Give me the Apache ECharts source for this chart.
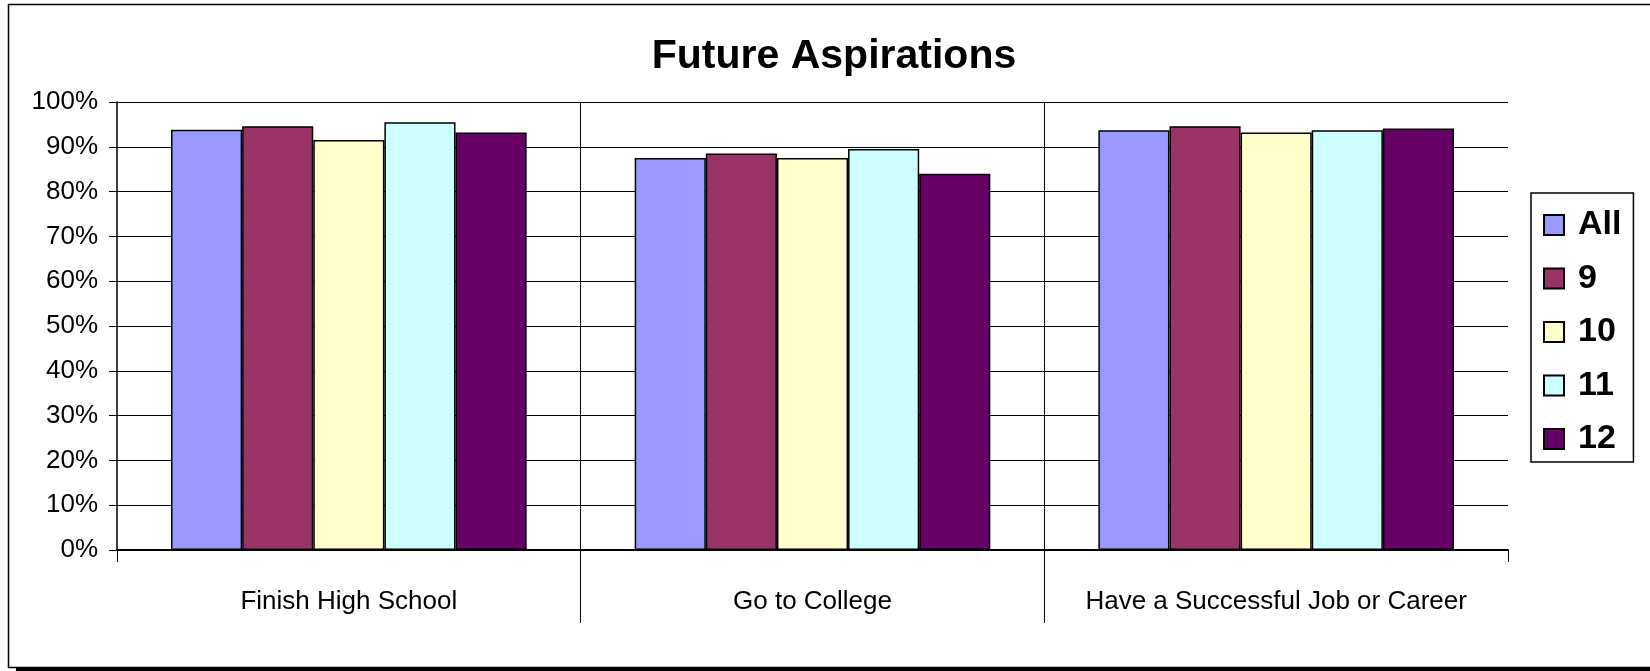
<!DOCTYPE html>
<html>
<head>
<meta charset="utf-8">
<script src="https://cdn.jsdelivr.net/npm/echarts@6/dist/echarts.min.js"></script>
<style>
html,body{margin:0;padding:0;background:#fff;}
#chart{width:1650px;height:671px;}
</style>
</head>
<body>
<div id="chart"></div>
<script>
var categories = ['Finish High School', 'Go to College', 'Have a Successful Job or Career'];
var seriesNames = ['All', '9', '10', '11', '12'];
var valuesAll = [93.8, 87.5, 93.7];
var values9 = [94.6, 88.5, 94.6];
var values10 = [91.5, 87.5, 93.2];
var values11 = [95.5, 89.5, 93.7];
var values12 = [93.2, 84.0, 94.1];
var yTicks = [0, 10, 20, 30, 40, 50, 60, 70, 80, 90, 100];

var colors = ['#9999FF', '#993366', '#FFFFCC', '#CCFFFF', '#660066'];
var seriesValues = [valuesAll, values9, values10, values11, values12];
var FONT = "'Liberation Sans', Arial, sans-serif";

var W = 1650, H = 671;
var gridLeft = 117, gridRight = 142, gridTop = 102, gridBottom = 121;
var plotW = W - gridLeft - gridRight;
var band = plotW / categories.length;

var chart = echarts.init(document.getElementById('chart'), null, {renderer: 'canvas'});

var series = seriesNames.map(function (name, i) {
  return {
    name: name,
    type: 'bar',
    xAxisIndex: 0,
    yAxisIndex: 0,
    data: seriesValues[i],
    barGap: '0%',
    barCategoryGap: '23.3%',
    itemStyle: {color: colors[i], borderColor: '#000', borderWidth: 1.5},
    emphasis: {disabled: true},
    animation: false
  };
});

var option = {
  backgroundColor: '#fff',
  animation: false,
  title: {
    text: 'Future Aspirations',
    left: 834,
    textAlign: 'center',
    top: 36,
    padding: 0,
    textStyle: {fontFamily: FONT, fontSize: 41, fontWeight: 'bold', color: '#000'}
  },
  legend: {
    orient: 'vertical',
    left: 1531,
    top: 193,
    width: 102,
    padding: [15, 12, 6, 12],
    itemGap: 19.5,
    itemWidth: 20,
    itemHeight: 20,
    icon: 'rect',
    borderColor: '#000',
    borderWidth: 1.5,
    textStyle: {fontFamily: FONT, fontSize: 34, fontWeight: 'bold', color: '#000', lineHeight: 34, padding: [0, 0, 0, 9]},
    data: seriesNames
  },
  graphic: [
    {type: 'rect', shape: {x: 8.5, y: 4.5, width: 1700, height: 663}, style: {fill: 'none', stroke: '#000', lineWidth: 1.5}, z: 0, silent: true},
    {type: 'rect', shape: {x: 16, y: 667, width: 1640, height: 4}, style: {fill: '#000'}, z: 0, silent: true}
  ],
  grid: [
    {left: gridLeft, right: gridRight, top: gridTop, bottom: gridBottom, containLabel: false},
    {left: gridLeft + band, width: band, top: gridTop, bottom: 48, containLabel: false}
  ],
  xAxis: [
    {
      type: 'category',
      gridIndex: 0,
      data: categories,
      boundaryGap: true,
      axisLine: {lineStyle: {color: '#000', width: 1.8}},
      axisTick: {show: true, length: 12, lineStyle: {color: '#000', width: 1}},
      axisLabel: {fontFamily: FONT, fontSize: 26, color: '#000', margin: 39, interval: 0},
      splitLine: {show: false}
    },
    {
      type: 'category',
      gridIndex: 1,
      data: [''],
      boundaryGap: true,
      axisLine: {show: false},
      axisTick: {show: false},
      axisLabel: {show: false},
      splitLine: {show: true, lineStyle: {color: '#000', width: 1}}
    }
  ],
  yAxis: [
    {
      type: 'value',
      gridIndex: 0,
      min: yTicks[0],
      max: yTicks[yTicks.length - 1],
      interval: yTicks[1] - yTicks[0],
      axisLine: {show: true, lineStyle: {color: '#000', width: 1.5}},
      axisTick: {show: true, length: 8, lineStyle: {color: '#000', width: 1}},
      axisLabel: {fontFamily: FONT, fontSize: 26, color: '#000', margin: 19, formatter: '{value}%'},
      splitLine: {show: true, lineStyle: {color: '#000', width: 1.2}}
    },
    {
      type: 'value',
      gridIndex: 1,
      show: false,
      splitLine: {show: false}
    }
  ],
  series: series
};

chart.setOption(option);
</script>
</body>
</html>
